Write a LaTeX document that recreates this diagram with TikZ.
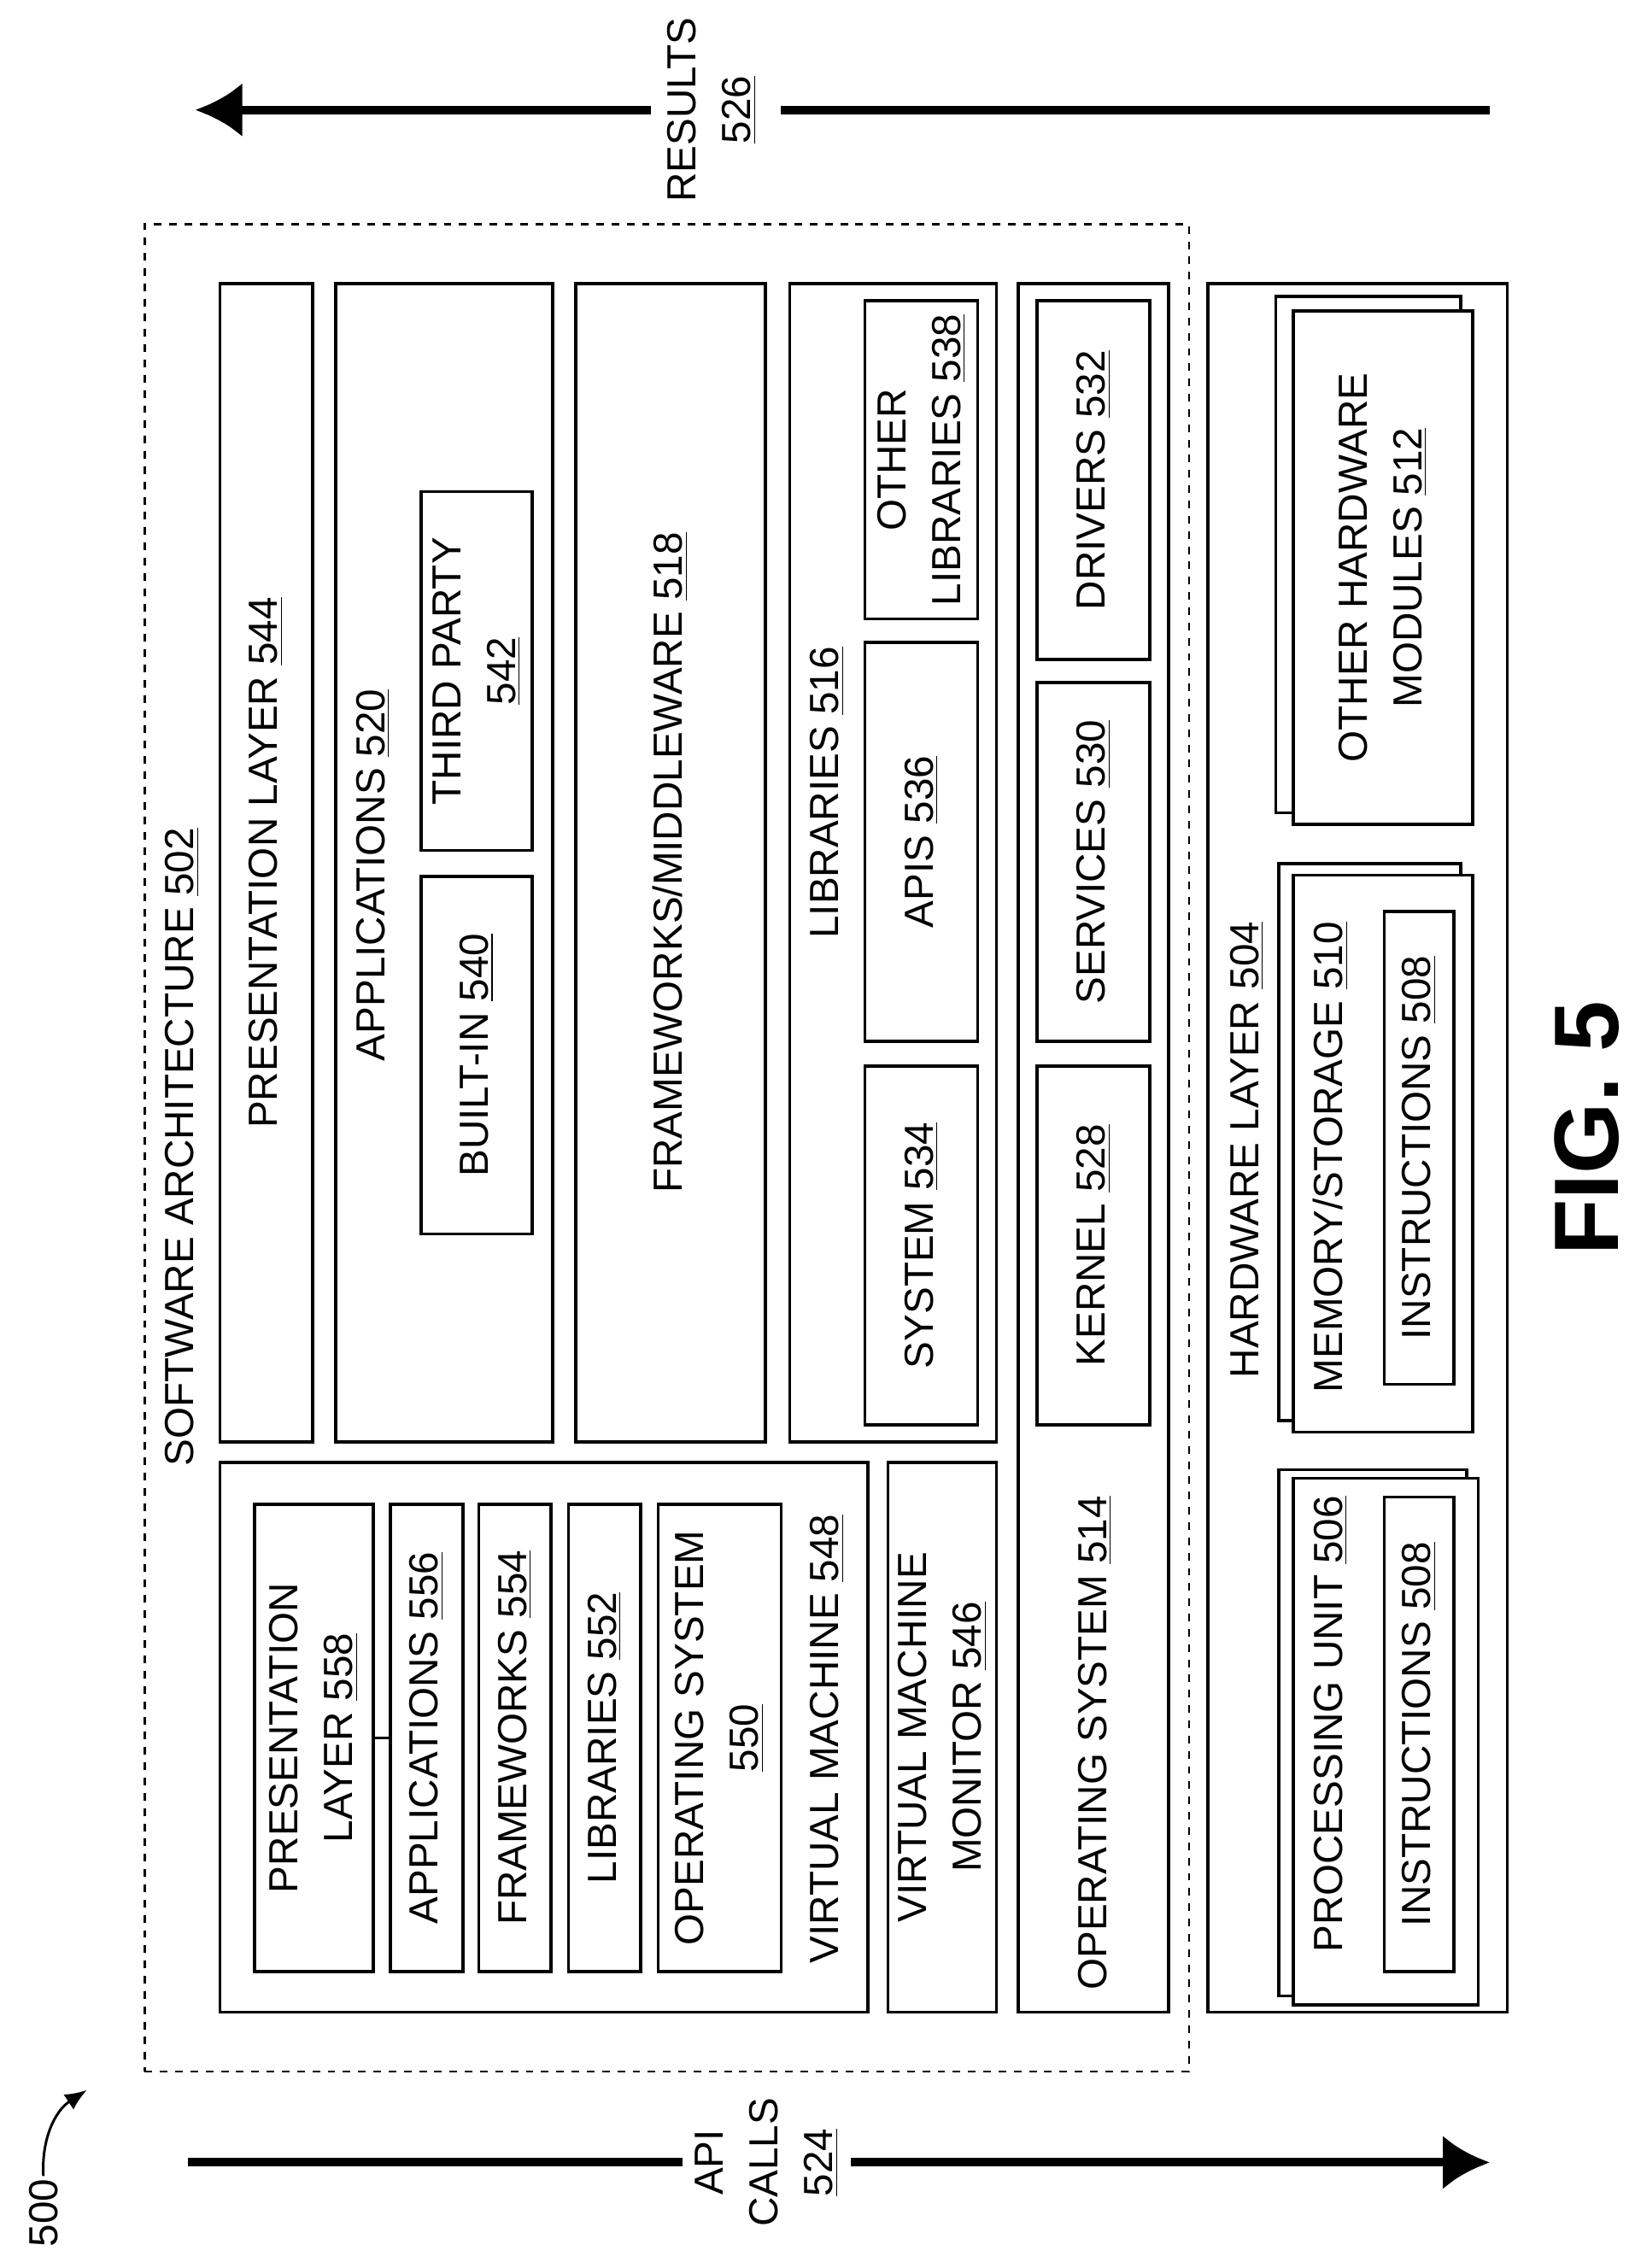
\documentclass[tikz,border=0pt]{standalone}
\usepackage{fontspec}
\setmainfont{Liberation Sans}
\usetikzlibrary{positioning}
\usetikzlibrary{fit}
\usetikzlibrary{arrows.meta}
\tikzset{box/.style={draw=black,line width=1.2pt,fill=white,inner sep=0pt}}
\tikzset{lbl/.style={rotate=90,align=center,inner sep=1pt,font=\fontsize{16}{21.5}\selectfont}}
\tikzset{flow/.style={line width=3.4pt,-{Latex[length=0.65cm,width=0.75cm]}}}
\newcommand{\num}[1]{\underline{#1}}

\begin{document}
\begin{tikzpicture}[x=0.02cm,y=-0.02cm]
\useasboundingbox (0,0) rectangle (1130,1568);

% software architecture
\node[draw=black,line width=0.8pt,dashed,inner sep=0pt,fit={(100,155)(822,1432)}] (SA) {};
\node[lbl,anchor=center] (SAl) at (126,793) {SOFTWARE ARCHITECTURE \num{502}};

\node[box,fit={(152,196)(216,997)}] (PL) {};
\node[lbl] at (PL) {PRESENTATION LAYER \num{544}};

\node[box,fit={(232,196)(382,997)}] (AP) {};
\node[lbl] at (258,605) {APPLICATIONS \num{520}};
\node[box,fit={(291,606)(368,853)}] (BI) {};
\node[lbl] at (BI) {BUILT-IN \num{540}};
\node[box,fit={(291,340)(368,588)}] (TP) {};
\node[lbl] at (TP) {THIRD PARTY\\\num{542}};

\node[box,fit={(398,196)(529,997)}] (FM) {};
\node[lbl] at (FM) {FRAMEWORKS/MIDDLEWARE \num{518}};

\node[box,fit={(546,196)(689,997)}] (LB) {};
\node[lbl] at (572,548) {LIBRARIES \num{516}};
\node[box,fit={(598,208)(676,428)}] (OL) {};
\node[lbl] at (OL) {OTHER\\LIBRARIES \num{538}};
\node[box,fit={(598,444)(676,720)}] (API) {};
\node[lbl] at (API) {APIS \num{536}};
\node[box,fit={(598,737)(676,985)}] (SY) {};
\node[lbl] at (SY) {SYSTEM \num{534}};

\node[box,fit={(704,196)(808,1391)}] (OS) {};
\node[lbl] at (757,1205) {OPERATING SYSTEM \num{514}};
\node[box,fit={(717,208)(795,456)}] (DR) {};
\node[lbl] at (DR) {DRIVERS \num{532}};
\node[box,fit={(717,472)(795,720)}] (SV) {};
\node[lbl] at (SV) {SERVICES \num{530}};
\node[box,fit={(717,737)(795,985)}] (KN) {};
\node[lbl] at (KN) {KERNEL \num{528}};

% virtual machine
\node[box,fit={(152,1011)(600,1391)}] (VM) {};
\node[lbl] at (572,1202) {VIRTUAL MACHINE \num{548}};
\node[box,fit={(176,1040)(258,1363)}] (VPL) {};
\node[lbl] at (VPL) {PRESENTATION\\LAYER \num{558}};
\node[box,fit={(270,1040)(320,1363)}] (VAP) {};
\node[lbl] at (VAP) {APPLICATIONS \num{556}};
\node[box,fit={(331,1040)(381,1363)}] (VFM) {};
\node[lbl] at (VFM) {FRAMEWORKS \num{554}};
\node[box,fit={(393,1040)(443,1363)}] (VLB) {};
\node[lbl] at (VLB) {LIBRARIES \num{552}};
\node[box,fit={(455,1040)(540,1363)}] (VOS) {};
\node[lbl] at (VOS) {OPERATING SYSTEM\\\num{550}};
\draw[line width=1.2pt] (VPL.east) -- (VAP.west);

\node[box,fit={(614,1011)(689,1391)}] (VMM) {};
\node[lbl] at (VMM) {VIRTUAL MACHINE\\MONITOR \num{546}};

% hardware layer
\node[box,fit={(835,196)(1042,1391)}] (HW) {};
\node[lbl] at (862,795) {HARDWARE LAYER \num{504}};

\node[box,fit={(884,597)(1010,982)}] (MSb) {};
\node[box,fit={(894,605)(1018,990)}] (MS) {};
\node[lbl] at (920,800) {MEMORY/STORAGE \num{510}};
\node[box,fit={(957,630)(1005,957)}] (MI) {};
\node[lbl] at (MI) {INSTRUCTIONS \num{508}};

\node[box,fit={(882,205)(1010,562)}] (OHb) {};
\node[box,fit={(894,215)(1018,570)}] (OH) {};
\node[lbl] at (OH) {OTHER HARDWARE\\MODULES \num{512}};

\node[box,fit={(884,1016)(1014,1380)}] (PUb) {};
\node[box,fit={(894,1022)(1022,1386)}] (PU) {};
\node[lbl] at (920,1192) {PROCESSING UNIT \num{506}};
\node[box,fit={(957,1035)(1005,1363)}] (PI) {};
\node[lbl] at (PI) {INSTRUCTIONS \num{508}};

% flows
\coordinate (R1) at (1030,76);
\coordinate (R2) at (540,76);
\coordinate (R3) at (450,76);
\coordinate (R4) at (135,76);
\node[lbl] (RES) at (492,76) {RESULTS\\\num{526}};
\draw[line width=3.4pt] (R1) -- (R2);
\draw[flow] (R3) -- (R4);

\coordinate (A1) at (130,1495);
\coordinate (A2) at (472,1495);
\coordinate (A3) at (588,1495);
\coordinate (A4) at (1030,1495);
\node[lbl] (API) at (530,1495) {API\\CALLS\\\num{524}};
\draw[line width=3.4pt] (A1) -- (A2);
\draw[flow] (A3) -- (A4);

\node[lbl] (REF) at (30,1530) {500};
\coordinate (REFt) at (60,1445);
\draw[line width=1pt,-{Latex[length=0.3cm,width=0.25cm]}] (REF.east) to[bend left=30] (REFt);

\node[lbl,font=\fontsize{36}{44}\selectfont\bfseries] (FIG) at (1097,780) {FIG. 5};
\end{tikzpicture}
\end{document}
